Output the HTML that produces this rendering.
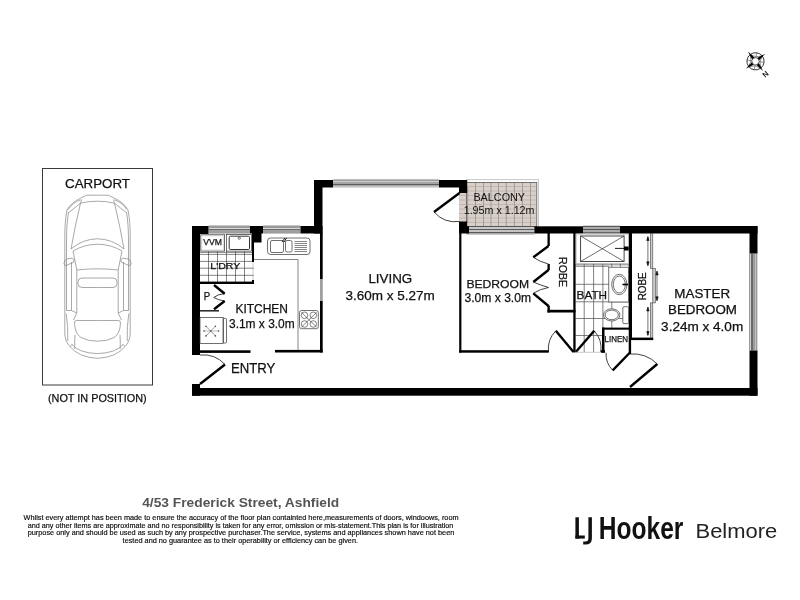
<!DOCTYPE html>
<html><head><meta charset="utf-8"><title>Floor plan</title>
<style>
html,body{margin:0;padding:0;background:#fff;width:800px;height:600px;overflow:hidden}
svg{display:block;will-change:transform}
text{font-family:"Liberation Sans",sans-serif;fill:#111}
#plan text,.lbl{stroke:#111;stroke-width:0.25px}
</style></head><body>
<svg width="800" height="600" viewBox="0 0 800 600">
<defs>
<linearGradient id="wh" x1="0" y1="0" x2="0" y2="1">
 <stop offset="0" stop-color="#c8c8c8"/><stop offset="0.1" stop-color="#c8c8c8"/>
 <stop offset="0.1" stop-color="#9a9a9a"/><stop offset="0.3" stop-color="#9a9a9a"/>
 <stop offset="0.3" stop-color="#d8d8d8"/><stop offset="0.42" stop-color="#d8d8d8"/>
 <stop offset="0.42" stop-color="#6a6a6a"/><stop offset="0.56" stop-color="#6a6a6a"/>
 <stop offset="0.56" stop-color="#a2a2a2"/><stop offset="0.88" stop-color="#9c9c9c"/>
 <stop offset="0.88" stop-color="#c4c4c4"/><stop offset="1" stop-color="#c4c4c4"/>
</linearGradient>
<linearGradient id="wl" x1="0" y1="0" x2="0" y2="1"><stop offset="0" stop-color="#c4c4c4"/><stop offset="0.15" stop-color="#c4c4c4"/><stop offset="0.15" stop-color="#9a9a9a"/><stop offset="0.24" stop-color="#9a9a9a"/><stop offset="0.24" stop-color="#d0d0d0"/><stop offset="0.3" stop-color="#d0d0d0"/><stop offset="0.3" stop-color="#a4a4a4"/><stop offset="0.55" stop-color="#a4a4a4"/><stop offset="0.55" stop-color="#5e5e5e"/><stop offset="0.66" stop-color="#5e5e5e"/><stop offset="0.66" stop-color="#a4a4a4"/><stop offset="0.85" stop-color="#a4a4a4"/><stop offset="0.85" stop-color="#c8c8c8"/><stop offset="1" stop-color="#c8c8c8"/></linearGradient>
<linearGradient id="wb" x1="0" y1="0" x2="0" y2="1"><stop offset="0" stop-color="#555"/><stop offset="0.08" stop-color="#555"/><stop offset="0.08" stop-color="#c8c8c8"/><stop offset="0.33" stop-color="#c8c8c8"/><stop offset="0.33" stop-color="#5a5a5a"/><stop offset="0.43" stop-color="#5a5a5a"/><stop offset="0.43" stop-color="#c4c4c4"/><stop offset="0.68" stop-color="#c4c4c4"/><stop offset="0.68" stop-color="#5a5a5a"/><stop offset="0.78" stop-color="#5a5a5a"/><stop offset="0.78" stop-color="#a8a8a8"/><stop offset="1" stop-color="#a8a8a8"/></linearGradient>
<linearGradient id="wt" x1="0" y1="0" x2="0" y2="1"><stop offset="0" stop-color="#5a5a5a"/><stop offset="0.12" stop-color="#5a5a5a"/><stop offset="0.12" stop-color="#ababab"/><stop offset="0.33" stop-color="#ababab"/><stop offset="0.33" stop-color="#555"/><stop offset="0.47" stop-color="#555"/><stop offset="0.47" stop-color="#ababab"/><stop offset="0.65" stop-color="#ababab"/><stop offset="0.65" stop-color="#666"/><stop offset="0.78" stop-color="#666"/><stop offset="0.78" stop-color="#ababab"/><stop offset="1" stop-color="#ababab"/></linearGradient>
<linearGradient id="wv" x1="0" y1="0" x2="1" y2="0">
 <stop offset="0" stop-color="#9a9a9a"/><stop offset="0.15" stop-color="#9a9a9a"/>
 <stop offset="0.15" stop-color="#cfcfcf"/><stop offset="0.25" stop-color="#cfcfcf"/>
 <stop offset="0.25" stop-color="#6a6a6a"/><stop offset="0.42" stop-color="#6a6a6a"/>
 <stop offset="0.42" stop-color="#9c9c9c"/><stop offset="0.69" stop-color="#9c9c9c"/>
 <stop offset="0.69" stop-color="#c0c0c0"/><stop offset="0.8" stop-color="#c0c0c0"/>
 <stop offset="0.8" stop-color="#9a9a9a"/><stop offset="0.92" stop-color="#9a9a9a"/>
 <stop offset="0.92" stop-color="#c8c8c8"/><stop offset="1" stop-color="#c8c8c8"/>
</linearGradient>
</defs>
<rect width="800" height="600" fill="#fff"/>

<!-- ============ CARPORT ============ -->
<rect x="42.5" y="168.5" width="110" height="216.5" fill="none" stroke="#3a3a3a" stroke-width="1"/>
<text class="lbl" x="65" y="187.5" font-size="13" textLength="65" lengthAdjust="spacingAndGlyphs">CARPORT</text>
<text class="lbl" x="48" y="402" font-size="11.3" textLength="98.6" lengthAdjust="spacingAndGlyphs">(NOT IN POSITION)</text>

<!-- car -->
<g fill="none" stroke="#8c8c8c" stroke-width="0.75" id="carL">
 <path d="M97.5,195.2 H86.6 L80.9,198 Q71,202.5 67,210 Q64.5,222 64.8,240 V334 Q65.3,342 70,346.5 Q79,357.5 97.5,358.3"/>
 <path d="M68.5,212 Q66.3,225 66.5,245 V310.5"/>
 <path d="M66.2,313.5 Q68.2,326 67.8,341"/>
 <path d="M80.5,203.2 Q88,201.2 97.5,201.2"/>
 <path d="M68.8,212.5 L80.5,203.2 L81.5,199.5"/>
 <path d="M68.2,209.5 Q72,203 80.5,199.8"/>
 <path d="M80.5,203.2 Q75,226 71,249"/>
 <path d="M71,249 Q83,238.9 97.5,238.8"/>
 <path d="M73,251 Q84,244.4 97.5,244.2"/>
 <path d="M73,251 L76.8,270 V313"/>
 <path d="M76.8,270 Q87,268.8 97.5,268.8"/>
 <path d="M97.5,278 H82 Q78,278 78,282 V283.5 Q78,287.5 82,287.5 H97.5"/>
 <path d="M71.5,262 V310.5 L76.8,313 L73.5,320"/>
 <path d="M66.5,310.5 L71.5,310.5"/>
 <path d="M64,263.5 Q64,259.8 67,259 L72.3,258 Q74.5,259.5 74,262 L66,265.6 Q64,265.5 64,263.5 Z"/>
 <path d="M97.5,320.5 H76.5 Q74.5,320.5 74.5,323 Q75,334 81,337.5 Q88,341.3 97.5,341.2"/>
 <path d="M75,335 Q74.5,342 74.8,349"/>
 <path d="M71.8,344.5 Q79,353 97.5,353.6"/>
 <path d="M70,346.5 L72.5,344"/>
</g>
<use href="#carL" transform="translate(195,0) scale(-1,1)"/>

<!-- ============ COMPASS ============ -->
<g transform="translate(755.5,61.3) rotate(52)">
 <circle r="8.6" fill="#fff" stroke="#333" stroke-width="0.9"/>
 <path d="M0,-8.6 L3.2,-3.2 L8.6,0 L3.2,3.2 L0,8.6 L-3.2,3.2 L-8.6,0 L-3.2,-3.2 Z" fill="none" stroke="#555" stroke-width="0.6"/>
 <path d="M-6.1,-6.1 L-2.5,-2.5 M6.1,-6.1 L2.5,-2.5 M-6.1,6.1 L-2.5,2.5 M6.1,6.1 L2.5,2.5" stroke="#555" stroke-width="0.6"/>
 <path d="M0,-12.3 L1.6,-3.2 L-1.6,-3.2 Z M0,12.3 L1.6,3.2 L-1.6,3.2 Z M-12.3,0 L-3.2,1.6 L-3.2,-1.6 Z M12.3,0 L3.2,1.6 L3.2,-1.6 Z" fill="#000"/>
 <circle r="3.6" fill="#fff" stroke="#222" stroke-width="0.6"/>
</g>
<text x="0" y="2.6" font-size="7.5" font-weight="bold" transform="translate(765.6,74.2) rotate(138)" text-anchor="middle" fill="#111" style="fill:#111">N</text>

<!-- ============ FLOOR PLAN ============ -->
<g id="plan">
 <!-- balcony tiles -->
 <rect x="466.5" y="179.6" width="72" height="46.6" fill="#fff" stroke="#c8c8c8" stroke-width="1"/>
 <rect x="459" y="187" width="10" height="35" fill="#d8cfc8"/>
 <rect x="466.5" y="182.5" width="70.3" height="44" fill="#d8cfc8" stroke="#555" stroke-width="0.8"/>
 <g stroke="#6e6660" stroke-width="0.5">
  <path d="M475.5,182.5V226.5 M483.5,182.5V226.5 M491,182.5V226.5 M498.5,182.5V226.5 M506.3,182.5V226.5 M514.4,182.5V226.5 M522.5,182.5V226.5 M530.5,182.5V226.5"/>
  <path stroke="#a89f98" d="M466.5,186.5H536.8 M459,191H536.8 M459,195.5H536.8 M459,200H536.8 M459,204.5H536.8 M459,209H536.8 M459,213.5H536.8 M459,218H536.8 M466.5,222.5H536.8"/>
  <path d="M467.7,187V222"/>
 </g>

 <!-- laundry tiles -->
 <g stroke="#333" stroke-width="0.6" fill="none">
  <path d="M200,252.4H254 M200,254.4H254 M200,261.4H254 M200,268.2H254 M200,275.3H254"/>
  <path d="M208.5,251.3V282 M217.5,251.3V282 M226.5,251.3V282 M235.5,251.3V282 M244.5,251.3V282"/>
  <path d="M253,262V281" stroke="#aaa"/>
 </g>

 <!-- bath tiles -->
 <g stroke="#555" stroke-width="0.75" fill="none">
  <path d="M575.5,264.8H628.7 M575.5,266.3H609 M575.5,284.3H609 M575.5,301.8H628.7 M575.5,318.5H628.7 M575.5,335.5H602"/>
  <path d="M584.2,263.4V352 M593.6,263.4V352 M602.9,263.4V328 M611.8,302V328 M620.4,263.4V267.2 M611.8,263.4V267.2"/>
 </g>

 <!-- windows -->
 <g>
  <rect x="208.5" y="225" width="41.5" height="9.5" fill="url(#wh)"/>
  <rect x="263" y="225" width="37.5" height="9" fill="url(#wh)"/>
  <rect x="333" y="178.9" width="106" height="8.8" fill="url(#wl)"/>
  <rect x="466.5" y="226" width="68" height="8.6" fill="url(#wb)"/>
  <rect x="583" y="225.75" width="37" height="9.15" fill="url(#wt)"/>
  <rect x="749" y="253.5" width="8.7" height="97" fill="url(#wv)"/>
  <rect x="320" y="279" width="2.8" height="22" fill="#a0a0a0"/>
 </g>

 <!-- black walls -->
 <g fill="#000">
  <!-- left outer -->
  <rect x="192" y="226" width="8" height="129"/>
  <rect x="192" y="384" width="8" height="11.7"/>
  <rect x="192" y="226" width="16.5" height="8"/>
  <!-- pier between windows -->
  <rect x="250" y="226" width="13" height="7.5"/>
  <rect x="252" y="233" width="9.5" height="9.5"/>
  <rect x="252" y="242" width="2" height="20"/>
  <rect x="252" y="280" width="2" height="4"/>
  <!-- top kitchen right -->
  <rect x="300.5" y="226" width="22" height="7.5"/>
  <!-- living left wall -->
  <rect x="314" y="180" width="8.5" height="53.5"/>
  <rect x="320" y="233" width="2.7" height="46"/>
  <rect x="320" y="301" width="2.7" height="51.5"/>
  <!-- living top -->
  <rect x="314" y="180" width="19" height="7.5"/>
  <rect x="439" y="180" width="28.2" height="7.5"/>
  <rect x="459" y="187" width="8.2" height="6"/>
  <rect x="459" y="221.5" width="8.2" height="12"/>
  <rect x="467" y="226.3" width="2" height="7.2"/>
  <!-- bedroom left -->
  <rect x="459.2" y="233" width="2.2" height="119.5"/>
  <!-- top right -->
  <rect x="534.4" y="226.3" width="48.6" height="7.2"/>
  <rect x="620" y="226" width="137.5" height="7.5"/>
  <rect x="749.5" y="226" width="8" height="27.5"/>
  <rect x="749.5" y="350.5" width="8" height="45.2"/>
  <!-- bottom -->
  <rect x="192" y="388" width="565.5" height="7.7"/>
  <!-- laundry bottom -->
  <rect x="200" y="281.6" width="54" height="2.4"/>
  <!-- kitchen bottom -->
  <rect x="200" y="350.3" width="50.5" height="2.6"/>
  <rect x="275" y="349.9" width="47.7" height="2.6"/>
  <!-- bedroom bottom -->
  <rect x="459.2" y="350.2" width="89.5" height="2.5"/>
  <!-- bedroom robe -->
  <rect x="547.5" y="233" width="2.3" height="13"/>
  <rect x="547.5" y="264" width="2.3" height="6.3"/>
  <rect x="547.5" y="305.5" width="2.3" height="7"/>
  <rect x="547.5" y="309.8" width="28" height="2.7"/>
  <rect x="573.3" y="233" width="2.3" height="119.5"/>
  <!-- bath right / master robe left -->
  <rect x="628.7" y="233" width="2.4" height="121"/>
  <rect x="630" y="233" width="2" height="107"/>
  <rect x="630" y="337.6" width="23.3" height="2.5"/>
  <!-- linen -->
  <rect x="602" y="327.6" width="28.5" height="2.1"/>
  <rect x="602" y="327.6" width="2.5" height="25"/>
  <rect x="600.8" y="350.2" width="4.2" height="2.5"/>
 </g>

 <!-- doors (thick leaves) -->
 <g stroke="#000" stroke-width="2.4" fill="none" stroke-linecap="butt">
  <path d="M200,384 L225,364.5"/>
  <path d="M459.5,193 L434,212"/>
  <path d="M573.5,352 L555.8,330.8"/>
  <path d="M575.8,352 L594.2,330.8"/>
  <path d="M629.5,353 L612.7,370.4"/>
  <path d="M630,387 L657.3,364"/>
  <!-- pantry bifold -->
  <path d="M214,285 L224.7,293.7 M224.7,301 L214,309.3"/>
  <!-- robe bifold -->
  <path d="M548.5,246 L533.3,257.3 M548.5,270 L533.3,282 M533.3,293.3 L548.5,306"/>
 </g>
 <!-- door arcs -->
 <g stroke="#111" stroke-width="0.8" fill="none">
  <path d="M225,364.5 A30,30 0 0 0 200,355"/>
  <path d="M434,212 A29,29 0 0 0 459.5,221.5"/>
  <path d="M555.8,330.8 A26,26 0 0 0 548.5,352"/>
  <path d="M594.2,330.8 A26,26 0 0 1 600.8,352"/>
  <path d="M612.7,370.4 A24,24 0 0 1 606,352.7"/>
  <path d="M657.3,364 A35,35 0 0 0 630,354"/>
  <path d="M224.7,293.7 Q218,294 213.7,297.5 Q218,300 224.7,301"/>
  <path d="M533.3,257.3 Q540,262 548.5,264"/>
  <path d="M533.3,282 Q540,285 548.5,287.5 Q540,289 533.3,293.3"/>
 </g>

 <path d="M575.5,352.3H601" stroke="#bbb" stroke-width="0.8"/>
 <!-- laundry fixtures -->
 <g fill="none" stroke="#333" stroke-width="0.7">
  <rect x="200.8" y="234.8" width="23.8" height="16.3" fill="#fff" stroke="#444" stroke-width="0.8"/>
  <rect x="201.9" y="235.9" width="21.6" height="14.1" stroke="#bbb" stroke-width="0.5"/>
  <rect x="226.5" y="234.6" width="25" height="16.5" fill="#fff"/>
  <rect x="229.2" y="236.2" width="20.3" height="13.3" rx="1.2" stroke-width="1"/>
  <circle cx="239.3" cy="238.2" r="1.1"/>
 </g>
 <text x="203.2" y="245.4" font-size="9" textLength="18.8" lengthAdjust="spacingAndGlyphs">VVM</text>
 <text x="210.3" y="268.5" font-size="9.3" textLength="30" lengthAdjust="spacingAndGlyphs">L'DRY</text>

 <!-- kitchen fixtures -->
 <g fill="none" stroke="#333" stroke-width="0.7">
  <rect x="267.5" y="238" width="42.5" height="16.5" rx="3"/>
  <rect x="270.5" y="240.5" width="13" height="12" rx="1.5"/>
  <rect x="285.5" y="240.5" width="6.5" height="11.5" rx="1.5"/>
  <path d="M294.5,241.5H307 M294.5,243.5H307 M294.5,245.5H307 M294.5,247.5H307 M294.5,249.5H307 M294.5,251.5H307" stroke-width="0.6"/>
  <path d="M282,242 L285,238 M284,242 L286.5,238" stroke="#000" stroke-width="0.9"/>
  <path d="M254,259.5H298 V350" stroke="#777" stroke-width="0.9"/>
  <rect x="299.5" y="310.5" width="18.8" height="18.2" rx="2"/>
  <g stroke-width="0.6">
   <circle cx="304.5" cy="315.3" r="3.3"/><circle cx="313.3" cy="315.3" r="3.3"/>
   <circle cx="304.5" cy="324" r="3.3"/><circle cx="313.3" cy="324" r="3.3"/>
   <path d="M301.5,312.5 L316.5,327 M316.5,312.5 L301.5,327"/>
  </g>
  <!-- fridge / hws -->
  <rect x="200" y="317.6" width="23.2" height="25.9" fill="#fff"/>
  <rect x="223.2" y="318.5" width="3.3" height="24.5" rx="0.8"/>
  <path d="M204,331 H218.5" stroke="#bbb" stroke-width="1"/>
  <path d="M206,326.3 L215.4,335.9 M215.4,326.3 L206,335.9" stroke="#555" stroke-width="0.6"/>
  <g fill="#444" stroke="none"><circle cx="206" cy="326.3" r="0.8"/><circle cx="215.4" cy="326.3" r="0.8"/><circle cx="206" cy="335.9" r="0.8"/><circle cx="215.4" cy="335.9" r="0.8"/><circle cx="204" cy="331" r="0.8"/><circle cx="218.6" cy="331" r="0.8"/><circle cx="210.8" cy="331" r="0.7"/></g>
  <!-- pantry shelf -->
  <path d="M200,310.8 H219" stroke="#222" stroke-width="1.5"/>
 </g>
 <text x="203.8" y="299.7" font-size="10.7" textLength="6.4" lengthAdjust="spacingAndGlyphs">P</text>

 <!-- bath fixtures -->
 <g fill="none" stroke="#333" stroke-width="0.7">
  <rect x="576.1" y="234.1" width="52.5" height="29.3" fill="#fff" stroke="#aaa"/>
  <rect x="580.6" y="236" width="43.5" height="25.5" stroke-width="0.9"/>
  <path d="M580.6,236 L624.1,261.5 M624.1,236 L580.6,261.5"/>
  <path d="M615,248.4 H628.6" stroke="#000" stroke-width="0.9"/>
  <rect x="624" y="246.5" width="4.6" height="4" fill="#000" stroke="none"/>
  <rect x="608.8" y="267.2" width="19.8" height="34.8" fill="#fff"/>
  <ellipse cx="619.3" cy="284.5" rx="7.6" ry="10.2"/>
  <ellipse cx="619.3" cy="284.5" rx="6" ry="8.5"/>
  <path d="M622.5,284.5 H628" stroke="#000" stroke-width="1.6"/>
  <ellipse cx="611.7" cy="314.9" rx="8.2" ry="6.1" fill="#fff"/>
  <ellipse cx="611.7" cy="314.9" rx="6.6" ry="4.8"/>
  <rect x="622.8" y="306.7" width="5.8" height="16.9" rx="1.2" fill="#fff"/>
 </g>

 <!-- master robe sliders -->
 <g>
  <rect x="650.4" y="233.5" width="2.4" height="35" fill="#ccc" stroke="#444" stroke-width="0.6"/>
  <rect x="652.8" y="268.5" width="2.6" height="34.4" fill="#ccc" stroke="#444" stroke-width="0.6"/>
  <rect x="650.4" y="302.9" width="2.4" height="34.7" fill="#ccc" stroke="#444" stroke-width="0.6"/>
  <g stroke="#111" stroke-width="0.6" fill="#111">
   <path d="M647.9,237V265.4 M657,271.5V300.4 M647.9,307.3V335" fill="none"/>
   <path d="M647.9,236.5 l-1.2,4 h2.4z M647.9,265.8 l-1.2,-4 h2.4z M657,271 l-1.2,4 h2.4z M657,300.8 l-1.2,-4 h2.4z M647.9,307 l-1.2,4 h2.4z M647.9,335.5 l-1.2,-4 h2.4z"/>
  </g>
 </g>

 <!-- labels -->
 <text x="231" y="373.4" font-size="14" textLength="44.4" lengthAdjust="spacingAndGlyphs">ENTRY</text>
 <text x="235.4" y="313" font-size="12.4" textLength="52.6" lengthAdjust="spacingAndGlyphs">KITCHEN</text>
 <text x="229" y="327.5" font-size="13" textLength="65.7" lengthAdjust="spacingAndGlyphs">3.1m x 3.0m</text>
 <text x="368.4" y="283" font-size="13.6" textLength="43.8" lengthAdjust="spacingAndGlyphs">LIVING</text>
 <text x="345.5" y="299.6" font-size="13.2" textLength="89.3" lengthAdjust="spacingAndGlyphs">3.60m x 5.27m</text>
 <text style="stroke:none" x="473.4" y="201" font-size="10.9" textLength="51.7" lengthAdjust="spacingAndGlyphs">BALCONY</text>
 <text style="stroke:none" x="463.7" y="213.75" font-size="10.2" textLength="70.8" lengthAdjust="spacingAndGlyphs">1.95m x 1.12m</text>
 <text x="466.4" y="287.5" font-size="11.8" textLength="62.7" lengthAdjust="spacingAndGlyphs">BEDROOM</text>
 <text x="464.4" y="302" font-size="12.4" textLength="66.7" lengthAdjust="spacingAndGlyphs">3.0m x 3.0m</text>
 <text transform="translate(558.8,257) rotate(90)" font-size="11.5" textLength="30" lengthAdjust="spacingAndGlyphs">ROBE</text>
 <text x="576.6" y="299.1" font-size="11.3" textLength="30.5" lengthAdjust="spacingAndGlyphs">BATH</text>
 <text transform="translate(645.8,300.3) rotate(-90)" font-size="11" textLength="28" lengthAdjust="spacingAndGlyphs">ROBE</text>
 <text x="604.5" y="341.8" font-size="8.8" textLength="23.5" lengthAdjust="spacingAndGlyphs">LINEN</text>
 <text x="674.3" y="297.5" font-size="12.4" textLength="55.8" lengthAdjust="spacingAndGlyphs">MASTER</text>
 <text x="668" y="313.75" font-size="12.4" textLength="69" lengthAdjust="spacingAndGlyphs">BEDROOM</text>
 <text x="661.1" y="330.6" font-size="12.6" textLength="82.1" lengthAdjust="spacingAndGlyphs">3.24m x 4.0m</text>
</g>

<!-- ============ FOOTER ============ -->
<text x="142.2" y="507" font-size="13.4" font-weight="bold" fill="#555" style="fill:#555" textLength="197" lengthAdjust="spacingAndGlyphs">4/53 Frederick Street, Ashfield</text>
<g font-size="6.8" style="fill:#000;stroke:#000;stroke-width:0.15px">
 <text x="23.6" y="520.2" textLength="435" lengthAdjust="spacingAndGlyphs">Whilst every attempt has been made to ensure the accuracy of the floor plan containted here,measurements of doors, windoows, room</text>
 <text x="27.7" y="527.8" textLength="425.7" lengthAdjust="spacingAndGlyphs">and any other items are approximate and no responsibility is taken for any error, omission or mis-statement.This plan is for illustration</text>
 <text x="27.7" y="535.4" textLength="426.6" lengthAdjust="spacingAndGlyphs">purpose only and should be used as such by any prospective purchaser.The service, systems and appliances shown have not been</text>
 <text x="122.6" y="543" textLength="235.4" lengthAdjust="spacingAndGlyphs">tested and no guarantee as to their operability or efficiency can be given.</text>
</g>

<!-- logo -->
<g fill="#111">
 <rect x="575.4" y="517.3" width="3.5" height="21.3"/>
 <rect x="575.4" y="535.5" width="9.4" height="3.1"/>
 <path d="M588.4,517.3 H591.9 V538.5 Q591.9,544.6 585.5,544.6 H583.2 V541.5 H585.3 Q588.4,541.5 588.4,538.3 Z"/>
</g>
<text x="598.8" y="538.6" font-size="31" font-weight="bold" fill="#111" style="fill:#111" textLength="84.6" lengthAdjust="spacingAndGlyphs">Hooker</text>
<text x="695.5" y="538.2" font-size="20.5" fill="#222" style="fill:#222" textLength="81.7" lengthAdjust="spacingAndGlyphs">Belmore</text>
</svg>
</body></html>
